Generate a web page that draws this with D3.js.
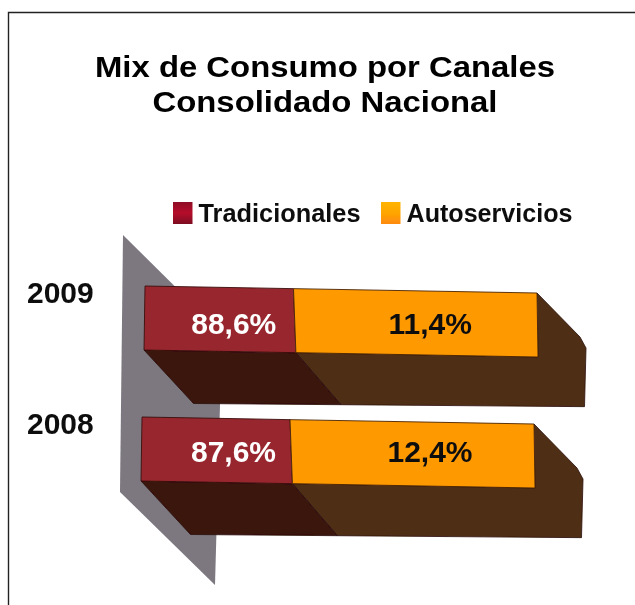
<!DOCTYPE html>
<html><head><meta charset="utf-8">
<script src="https://cdn.jsdelivr.net/npm/d3@7/dist/d3.min.js"></script>
<style>html,body{margin:0;padding:0;background:#fff}svg{display:block}text{font-family:"Liberation Sans",Arial,sans-serif;font-weight:700}</style>
</head><body><svg id="c" width="635" height="605"></svg>
<script>
const titleLines = ["Mix de Consumo por Canales", "Consolidado Nacional"];
const years = ["2009", "2008"];
const seriesNames = ["Tradicionales", "Autoservicios"];
const tradicionales = [88.6, 87.6];
const autoservicios = [11.4, 12.4];

const svg = d3.select("#c");
const defs = svg.append("defs");
const blur = defs.append("filter").attr("id","soft").attr("x","-5%").attr("y","-5%").attr("width","110%").attr("height","110%");
blur.append("feGaussianBlur").attr("stdDeviation",0.65);
[["lgR","#8f0f25","#b5102c","#7d0c20"],["lgA","#ffb400","#ffa500","#ff8a10"]].forEach(([id,a,b,c])=>{
  const g = defs.append("linearGradient").attr("id",id).attr("x1",0).attr("x2",0).attr("y1",0).attr("y2",1);
  g.append("stop").attr("offset",0).attr("stop-color",a);
  g.append("stop").attr("offset",.5).attr("stop-color",b);
  g.append("stop").attr("offset",1).attr("stop-color",c);
});

const root = svg.append("g").attr("filter","url(#soft)");
root.append("path").attr("d","M8.5,605V12.5H635").attr("fill","none").attr("stroke","#222").attr("stroke-width",1.4);
root.append("path").attr("d",d3.line()([[123,235],[222,333],[215,585],[120,492]])+"Z").attr("fill","#7d7880");

// The source's 3D bar is not drawn to value: the split sits at ~38% of the length.
const x = d3.scaleLinear().domain([0,87.6,88.6,100]).range([0,148,148.5,392]);
const y = d3.scaleBand().domain(years).range([286,548]);
const rowShift = d3.scaleOrdinal().domain(years).range([145,142]);
const labelY = d3.scaleOrdinal().domain(years).range([334,462]);
const barH = 64, depthY = 53.5, slope = 7/392;
const lean = d3.scaleLinear().domain([0,148,392]).range([-1,2.4,1]);
const depthX = d3.scaleLinear().domain([0,148,392]).range([49.5,45,46.5]);

const front = (yr,v,dy) => [rowShift(yr)+x(v)+lean(x(v))*dy/barH, y(yr)+x(v)*slope+dy];
const backB = (yr,v) => [front(yr,v,barH)[0]+depthX(x(v)), y(yr)+barH+depthY+x(v)*slope*0.45];
const poly = pts => d3.line()(pts)+"Z";
const cRed="#98282f", cOr="#ff9900", cDR="#3a1210", cBr="#4f2f17", cEdge="#2a0f08";
const fmt = v => d3.format(".1f")(v).replace(".",",")+"%";

const rows = root.selectAll("g.row").data(years.map((yr,i)=>({yr,t:tradicionales[i],a:autoservicios[i]}))).join("g").attr("class","row");
rows.each(function(d){
  const g = d3.select(this), s = d.t;
  const r0 = front(d.yr,100,0), rb = backB(d.yr,100);
  const capA = [r0[0]+43, r0[1]+44], capB = [r0[0]+49, r0[1]+55];
  g.append("path").attr("d",poly([front(d.yr,s,barH),front(d.yr,100,barH),r0,capA,capB,rb,backB(d.yr,s)]))
    .attr("fill",cBr).attr("stroke",cEdge).attr("stroke-width",.8);
  g.append("path").attr("d",poly([front(d.yr,0,barH),front(d.yr,s,barH),backB(d.yr,s),backB(d.yr,0)]))
    .attr("fill",cDR).attr("stroke",cEdge).attr("stroke-width",.8);
  g.append("path").attr("d",poly([front(d.yr,0,0),front(d.yr,s,0),front(d.yr,s,barH),front(d.yr,0,barH)]))
    .attr("fill",cRed).attr("stroke","#3a0f0c").attr("stroke-width",.9);
  g.append("path").attr("d",poly([front(d.yr,s,0),r0,front(d.yr,100,barH),front(d.yr,s,barH)]))
    .attr("fill",cOr).attr("stroke","#4a2408").attr("stroke-width",.9);
  const base = rowShift(years[0]);
  g.append("text").attr("x",base+x(s)/2+14.5).attr("y",labelY(d.yr)).attr("text-anchor","middle")
    .attr("font-size",30).attr("fill","#fff").text(fmt(d.t));
  g.append("text").attr("x",base+(x(s)+x(100))/2+15).attr("y",labelY(d.yr)).attr("text-anchor","middle")
    .attr("font-size",30).attr("fill","#111").text(fmt(d.a));
  g.append("text").attr("x",27).attr("y",y(d.yr)+17).attr("font-size",30).attr("fill","#111").text(d.yr);
});

root.selectAll("text.t").data(titleLines).join("text").attr("class","t")
  .attr("x",325).attr("y",(d,i)=>77+i*35).attr("text-anchor","middle").attr("font-size",30.4).attr("fill","#000")
  .attr("textLength",(d,i)=>i?345:460).attr("lengthAdjust","spacingAndGlyphs").text(d=>d);

const lgX = d3.scaleOrdinal().domain(seriesNames).range([173,381]);
const lg = root.selectAll("g.lg").data(seriesNames).join("g").attr("class","lg");
lg.append("rect").attr("x",d=>lgX(d)).attr("y",202).attr("width",19.5).attr("height",22).attr("fill",(d,i)=>i?"url(#lgA)":"url(#lgR)");
lg.append("text").attr("x",d=>lgX(d)+25.5).attr("y",222).attr("font-size",25).attr("fill","#111")
  .attr("textLength",(d,i)=>i?166:162).attr("lengthAdjust","spacingAndGlyphs").text(d=>d);
</script></body></html>
